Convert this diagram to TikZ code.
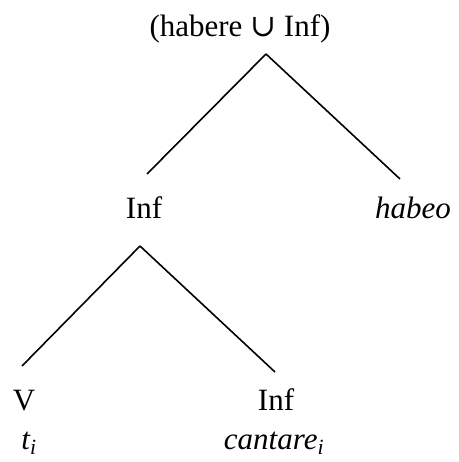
\documentclass[tikz,border=0pt]{standalone}
\usepackage{fontspec}
\setmainfont{Liberation Serif}
\newfontfamily\symfont{DejaVu Serif}
\usetikzlibrary{positioning}

\begin{document}
\begin{tikzpicture}[x=1pt,y=-1pt,line width=1.6pt,
    lbl/.style={font=\fontsize{31}{36}\selectfont,anchor=base,inner sep=0pt},
    word/.style={lbl,font=\fontsize{31}{36}\selectfont\itshape}]
                \useasboundingbox (0,0) rectangle (458,462);
                \node[style=lbl](Top)at(240, 37){(habere {\symfont ∪} Inf)};
                \node[style=lbl](InfA)at(144, 218){Inf};
                \node[style=word](Habeo)at(413, 218){habeo};
                \node[style=lbl](V)at(24, 410){V};
                \node[style=lbl](InfB)at(276, 410){Inf};
                \node[style=word](Trace)at(29, 449){t\textsubscript{i}};
                \node[style=word](Cantare)at(274, 449){cantare\textsubscript{i}};
                % apexes and branch ends
                \coordinate(TopApex)at(266, 54);
                \coordinate(TopL)at(147, 174);
                \coordinate(TopR)at(400, 179);
                \coordinate(InfApex)at(140, 246);
                \coordinate(InfL)at(22, 366);
                \coordinate(InfR)at(275, 372);
                \path[draw](TopApex) edge (TopL)
                (TopApex) edge (TopR)
                (InfApex) edge (InfL)
                (InfApex) edge (InfR);
            \end{tikzpicture}
\end{document}
